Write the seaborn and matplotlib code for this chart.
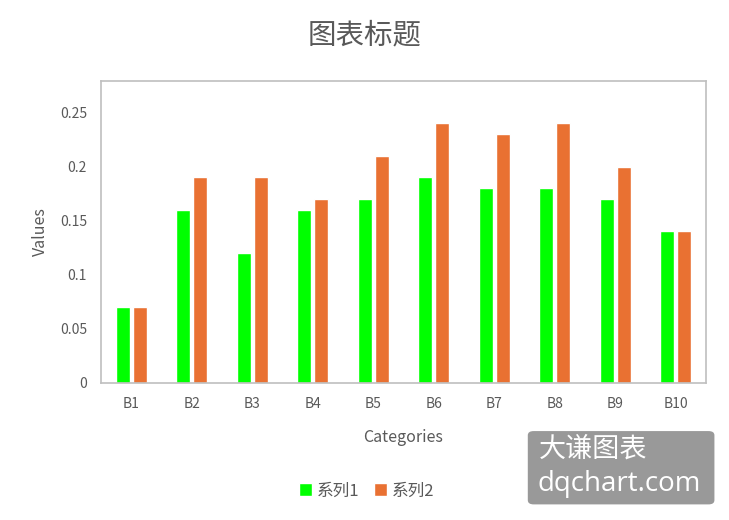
import matplotlib
matplotlib.use("Agg")
import matplotlib.pyplot as plt
import seaborn as sns
import pandas as pd
from matplotlib.patches import FancyBboxPatch

categories = ["B1", "B2", "B3", "B4", "B5", "B6", "B7", "B8", "B9", "B10"]
series1 = [0.07, 0.16, 0.12, 0.16, 0.17, 0.19, 0.18, 0.18, 0.17, 0.14]
series2 = [0.07, 0.19, 0.19, 0.17, 0.21, 0.24, 0.23, 0.24, 0.20, 0.14]
series_names = ["系列1", "系列2"]
yticks = [0, 0.05, 0.1, 0.15, 0.2, 0.25]
ytick_labels = ["0", "0.05", "0.1", "0.15", "0.2", "0.25"]

df = pd.DataFrame({
    "Categories": categories * 2,
    "Values": series1 + series2,
    "series": [series_names[0]] * len(categories) + [series_names[1]] * len(categories),
})

sns.set_style("white")
plt.rcParams["font.family"] = ["Noto Sans CJK SC", "DejaVu Sans"]

fig = plt.figure(figsize=(7.29, 5.2), dpi=100)
ax = fig.add_axes([0.1385, 0.2635, 0.8299, 0.5807])

sns.barplot(data=df, x="Categories", y="Values", hue="series",
            palette=["#00FF00", "#E97132"], width=0.56, gap=0.18,
            saturation=1, ax=ax, legend=True)

ax.set_ylim(0, 0.279)
ax.set_xlim(-0.5, len(categories) - 0.5)
ax.set_yticks(yticks)
ax.set_yticklabels(ytick_labels)
ax.tick_params(axis="both", colors="#595959", labelsize=10, length=0, pad=10)
for s in ax.spines.values():
    s.set_color("#BFBFBF")
    s.set_linewidth(1.2)
ax.set_xlabel("Categories", fontsize=11.5, color="#595959", labelpad=13)
ax.set_ylabel("Values", fontsize=11.5, color="#595959", labelpad=8)

fig.text(0.5, 0.932, "图表标题", ha="center", va="center", fontsize=20.5, color="#595959")

handles, labels = ax.get_legend_handles_labels()
ax.legend_.remove()
fig.legend(handles, labels, loc="center", bbox_to_anchor=(0.503, 0.056), ncol=2,
           frameon=False, fontsize=12, handlelength=0.75, handleheight=0.75,
           handletextpad=0.3, columnspacing=0.9, labelcolor="#595959")

# watermark box
box = FancyBboxPatch((0.724, 0.03), 0.256, 0.141, boxstyle="round,pad=0,rounding_size=0.008",
                     transform=fig.transFigure, facecolor="#999999", edgecolor="none", zorder=5)
fig.patches.append(box)
fig.text(0.739, 0.136, "大谦图表", fontsize=19.5, color="white", va="center", ha="left", zorder=6)
fig.text(0.737, 0.07, "dqchart.com", fontsize=20, color="white", va="center", ha="left",
         family=["Open Sans", "DejaVu Sans"], zorder=6)

fig.savefig("out.png", dpi=100)
